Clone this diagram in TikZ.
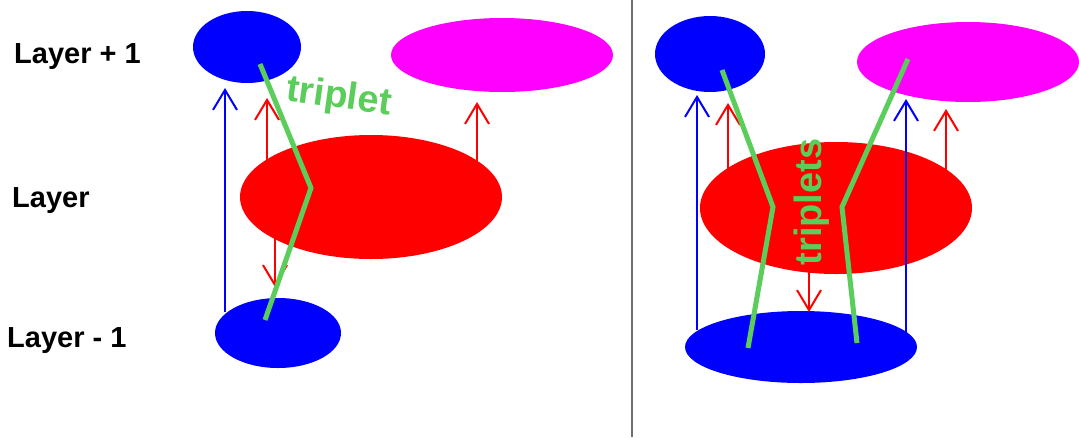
\documentclass[tikz,border=0pt]{standalone}
\usepackage{fontspec}
\setmainfont{Liberation Sans}
\usetikzlibrary{arrows.meta,shapes.geometric}
\definecolor{tripgreen}{RGB}{90,205,90}
\definecolor{divgray}{RGB}{110,110,110}
\definecolor{pblue}{RGB}{0,0,255}
\definecolor{pred}{RGB}{255,0,0}
\definecolor{pmag}{RGB}{255,0,255}

\begin{document}
\begin{tikzpicture}[
  x=1pt, y=-1pt,
  blob/.style={ellipse, inner sep=0pt, draw=none},
  lbl/.style={anchor=base west, inner sep=0pt, font=\fontsize{29}{31}\selectfont\bfseries},
  arr/.style={-{Straight Barb[length=20pt, width=24pt]}, line width=2pt},
  trip/.style={draw=tripgreen, line width=5pt, line join=miter},
  triptext/.style={text=tripgreen, font=\fontsize{38}{40}\selectfont\bfseries, inner sep=0pt}
]
\useasboundingbox (0,0) rectangle (1079,437);
\fill[white] (0,0) rectangle (1079,437);

% layer names
\node[lbl] (tup)  at (14,63)  {Layer + 1};
\node[lbl] (tmid) at (12,207) {Layer};
\node[lbl] (tdn)  at (7,347)  {Layer - 1};

% divider
\coordinate (dtop) at (632,0);
\coordinate (dbot) at (632,437);
\draw[divgray, line width=1.5pt] (dtop) -- (dbot);

% left: one triplet
\node[blob, fill=pblue, minimum width=108pt, minimum height=72pt]  (ltop) at (247,47)  {};
\node[blob, fill=pmag,  minimum width=222pt, minimum height=74pt]  (lmag) at (502,55)  {};
\node[blob, fill=pred,  minimum width=262pt, minimum height=124pt] (lmid) at (371,197) {};
\node[blob, fill=pblue, minimum width=126pt, minimum height=70pt]  (lbot) at (278,333) {};

\coordinate (lb1) at (225,312);
\coordinate (lr1) at (267,162);
\coordinate (lr2) at (275,236);
\coordinate (lr3) at (477,162);
\draw[arr, pblue] (lb1) -- (225,88);
\draw[arr, pred] (lr1) -- (267,98);
\draw[arr, pred] (lr2) -- (275,287);
\draw[arr, pred] (lr3) -- (477,102);

\coordinate (lg1) at (260,64);
\coordinate (lg2) at (311,188);
\coordinate (lg3) at (265,320);
\draw[trip] (lg1) -- (lg2) -- (lg3);
\node[triptext, rotate=-8] (ltrip) at (339,98) {triplet};

% right: two triplets
\node[blob, fill=pblue, minimum width=110pt, minimum height=76pt]  (rtop) at (710,54)  {};
\node[blob, fill=pmag,  minimum width=222pt, minimum height=80pt]  (rmag) at (968,62)  {};
\node[blob, fill=pred,  minimum width=272pt, minimum height=132pt] (rmid) at (836,208) {};
\node[blob, fill=pblue, minimum width=232pt, minimum height=72pt]  (rbot) at (801,347) {};

\coordinate (rb1) at (697,330);
\coordinate (rb2) at (906,332);
\coordinate (rr1) at (728,170);
\coordinate (rr2) at (946,172);
\coordinate (rr3) at (809,272);
\draw[arr, pblue] (rb1) -- (697,95);
\draw[arr, pblue] (rb2) -- (906,99);
\draw[arr, pred] (rr1) -- (728,103);
\draw[arr, pred] (rr2) -- (946,109);
\draw[arr, pred] (rr3) -- (809,312);

\coordinate (rg1) at (722,70);
\coordinate (rg2) at (773,207);
\coordinate (rg3) at (748,348);
\coordinate (rg4) at (908,59);
\coordinate (rg5) at (842,207);
\coordinate (rg6) at (857,343);
\draw[trip] (rg1) -- (rg2) -- (rg3);
\draw[trip] (rg4) -- (rg5) -- (rg6);
\node[triptext, rotate=90] (rtrip) at (812,202) {triplets};
\end{tikzpicture}
\end{document}
